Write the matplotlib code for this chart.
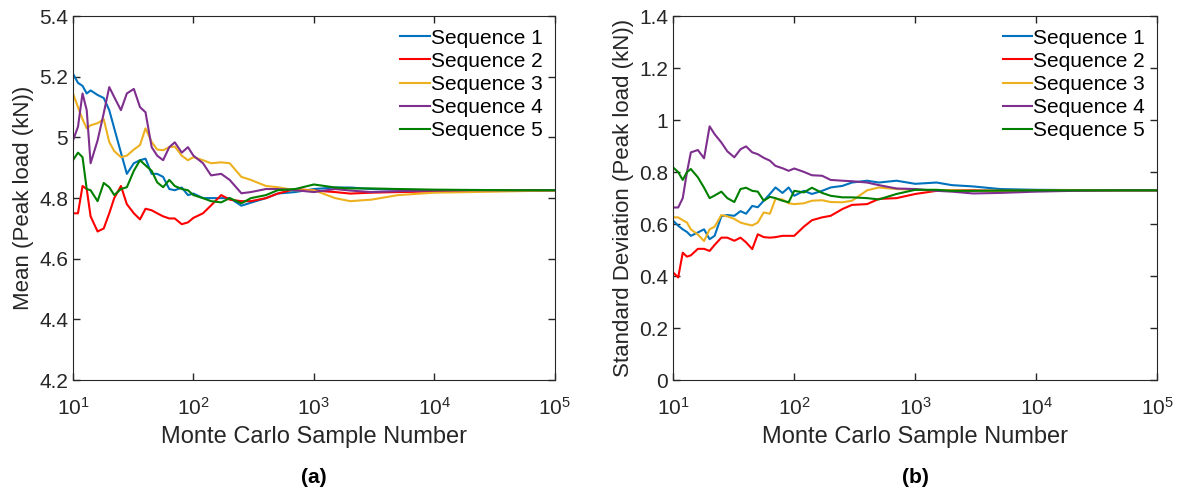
import numpy as np
import matplotlib
matplotlib.use('Agg')
from matplotlib import pyplot as plt

plt.rcParams['font.family'] = ['Liberation Sans', 'DejaVu Sans']

# Monte Carlo sample numbers
n = [10, 11, 12, 13, 14, 16, 18, 20, 22, 25, 28, 32, 36, 40, 45, 50, 56, 63, 70, 80,
     90, 100, 120, 140, 170, 200, 250, 300, 400, 500, 700, 1000, 1500, 2000, 3000,
     5000, 10000, 20000, 50000, 100000]

# mean peak load (kN)
mean1 = [5.21, 5.18, 5.17, 5.145, 5.155, 5.14, 5.13, 5.09, 5.03, 4.95, 4.88, 4.915, 4.925, 4.93,
         4.88, 4.88, 4.87, 4.83, 4.826, 4.835, 4.81, 4.815, 4.80, 4.80, 4.80, 4.80, 4.775, 4.785,
         4.80, 4.815, 4.82, 4.83, 4.835, 4.835, 4.83, 4.828, 4.826, 4.825, 4.826, 4.826]
mean2 = [4.75, 4.75, 4.84, 4.83, 4.74, 4.69, 4.70, 4.75, 4.80, 4.84, 4.78, 4.75, 4.73, 4.765,
         4.76, 4.75, 4.74, 4.733, 4.733, 4.714, 4.72, 4.735, 4.75, 4.776, 4.81, 4.795, 4.79, 4.79,
         4.80, 4.815, 4.83, 4.825, 4.82, 4.815, 4.818, 4.82, 4.822, 4.824, 4.825, 4.826]
mean3 = [5.145, 5.10, 5.06, 5.03, 5.04, 5.047, 5.06, 4.985, 4.955, 4.935, 4.94, 4.96, 4.975, 5.03,
         4.985, 4.96, 4.958, 4.968, 4.97, 4.94, 4.925, 4.935, 4.925, 4.915, 4.918, 4.915, 4.87,
         4.86, 4.84, 4.836, 4.826, 4.826, 4.80, 4.79, 4.795, 4.81, 4.818, 4.82, 4.823, 4.825]
mean4 = [4.99, 5.035, 5.145, 5.09, 4.915, 4.99, 5.08, 5.166, 5.133, 5.09, 5.145, 5.16, 5.10, 5.083,
         4.968, 4.94, 4.925, 4.968, 4.984, 4.95, 4.968, 4.94, 4.915, 4.875, 4.88, 4.86, 4.816,
         4.82, 4.83, 4.83, 4.826, 4.82, 4.83, 4.825, 4.82, 4.823, 4.825, 4.826, 4.826, 4.826]
mean5 = [4.925, 4.95, 4.935, 4.83, 4.826, 4.79, 4.85, 4.836, 4.81, 4.83, 4.836, 4.89, 4.925, 4.908,
         4.89, 4.852, 4.836, 4.86, 4.84, 4.83, 4.826, 4.81, 4.80, 4.79, 4.786, 4.80, 4.783, 4.80,
         4.81, 4.826, 4.83, 4.845, 4.835, 4.832, 4.832, 4.83, 4.828, 4.827, 4.826, 4.826]

# standard deviation of peak load (kN)
std1 = [0.613, 0.594, 0.58, 0.57, 0.555, 0.568, 0.58, 0.542, 0.555, 0.63, 0.635, 0.632, 0.65, 0.64,
        0.67, 0.665, 0.69, 0.716, 0.741, 0.72, 0.741, 0.709, 0.728, 0.716, 0.728, 0.741, 0.747,
        0.76, 0.767, 0.76, 0.767, 0.755, 0.76, 0.75, 0.745, 0.735, 0.732, 0.731, 0.73, 0.73]
std2 = [0.414, 0.395, 0.49, 0.475, 0.48, 0.505, 0.505, 0.497, 0.52, 0.548, 0.548, 0.536, 0.548,
        0.53, 0.504, 0.561, 0.55, 0.548, 0.55, 0.555, 0.555, 0.555, 0.59, 0.615, 0.626, 0.632,
        0.658, 0.674, 0.677, 0.697, 0.70, 0.716, 0.728, 0.73, 0.73, 0.728, 0.728, 0.729, 0.73, 0.73]
std3 = [0.626, 0.626, 0.615, 0.606, 0.58, 0.56, 0.535, 0.58, 0.59, 0.635, 0.63, 0.62, 0.606, 0.60,
        0.595, 0.606, 0.645, 0.64, 0.697, 0.695, 0.68, 0.677, 0.68, 0.69, 0.692, 0.685, 0.684,
        0.69, 0.73, 0.741, 0.735, 0.732, 0.73, 0.73, 0.728, 0.728, 0.729, 0.73, 0.73, 0.73]
std4 = [0.664, 0.664, 0.70, 0.80, 0.876, 0.885, 0.853, 0.976, 0.946, 0.914, 0.88, 0.857, 0.888,
        0.899, 0.876, 0.869, 0.855, 0.844, 0.824, 0.815, 0.805, 0.814, 0.801, 0.788, 0.786, 0.77,
        0.767, 0.765, 0.76, 0.75, 0.737, 0.735, 0.728, 0.725, 0.718, 0.72, 0.725, 0.728, 0.73, 0.73]
std5 = [0.818, 0.80, 0.77, 0.80, 0.812, 0.78, 0.74, 0.70, 0.71, 0.725, 0.70, 0.685, 0.735, 0.74,
        0.728, 0.725, 0.69, 0.705, 0.70, 0.69, 0.684, 0.728, 0.722, 0.74, 0.72, 0.709, 0.703,
        0.703, 0.70, 0.695, 0.716, 0.732, 0.732, 0.728, 0.728, 0.729, 0.73, 0.73, 0.73, 0.73]

labels = ['Sequence 1', 'Sequence 2', 'Sequence 3', 'Sequence 4', 'Sequence 5']
colors = ['#0072BD', '#FF0000', '#EDB120', '#7E2F8E', '#008000']

fig = plt.figure(figsize=(11.81, 4.88), dpi=100)
axA = fig.add_axes([0.0618, 0.221, 0.408, 0.746])
axB = fig.add_axes([0.570, 0.221, 0.410, 0.746])

def style(ax, ylim, yticks, ylabel):
    ax.set_xscale('log')
    ax.set_xlim(10, 1e5)
    ax.set_ylim(*ylim)
    ax.set_yticks(yticks)
    ax.set_xticks([1e1, 1e2, 1e3, 1e4, 1e5])
    ax.minorticks_off()
    ax.tick_params(direction='in', top=True, right=True, labelsize=15, length=5, width=1, colors='#262626')
    ax.tick_params(axis='x', pad=12)
    ax.set_xlabel('Monte Carlo Sample Number', fontsize=17, color='#262626', labelpad=5)
    ax.set_ylabel(ylabel, fontsize=16, color='#262626')
    for s in ax.spines.values():
        s.set_color('#262626')
    ax.legend(loc='upper right', frameon=False, fontsize=15, handlelength=1.4,
              handletextpad=0.05, labelspacing=0.2, borderaxespad=0.2)

for y, c, lab in zip([mean1, mean2, mean3, mean4, mean5], colors, labels):
    axA.plot(n, y, color=c, lw=1.5, label=lab)
style(axA, (4.2, 5.4), [4.2, 4.4, 4.6, 4.8, 5.0, 5.2, 5.4], 'Mean (Peak load (kN))')
axA.set_yticklabels(['4.2', '4.4', '4.6', '4.8', '5', '5.2', '5.4'])

for y, c, lab in zip([std1, std2, std3, std4, std5], colors, labels):
    axB.plot(n, y, color=c, lw=1.5, label=lab)
style(axB, (0, 1.4), [0, 0.2, 0.4, 0.6, 0.8, 1.0, 1.2, 1.4], 'Standard Deviation (Peak load (kN))')
axB.set_yticklabels(['0', '0.2', '0.4', '0.6', '0.8', '1', '1.2', '1.4'])

fig.text(0.266, 0.01, '(a)', fontsize=15, fontweight='bold', ha='center')
fig.text(0.775, 0.01, '(b)', fontsize=15, fontweight='bold', ha='center')

plt.savefig('out.png', dpi=100)
